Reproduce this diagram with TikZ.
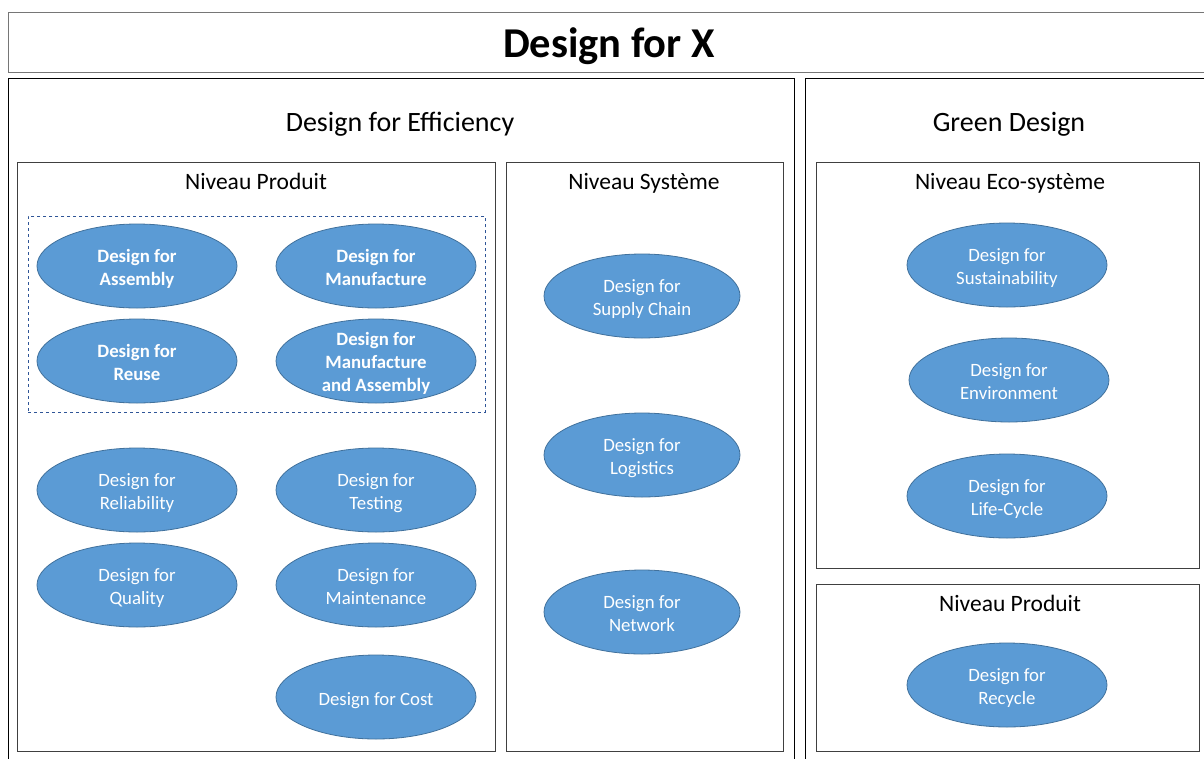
\documentclass[tikz,border=0pt]{standalone}
\usepackage{fontspec}
\setmainfont{Carlito}
\usetikzlibrary{shapes.geometric}
\definecolor{ellfill}{RGB}{91,155,213}
\definecolor{elldraw}{RGB}{65,113,156}
\definecolor{dashblue}{RGB}{47,85,151}
\definecolor{titlegray}{RGB}{118,118,118}
\definecolor{innergray}{RGB}{64,64,64}
\newcommand\tstr{\rule{0pt}{22pt}}
\newcommand\bstr{\rule[-6pt]{0pt}{6pt}}
\tikzset{
  boxnode/.style={draw, anchor=north west, inner sep=0pt, line width=1pt},
  titlebox/.style={boxnode, draw=titlegray},
  outerbox/.style={boxnode, draw=black, line width=1.1pt},
  innerbox/.style={boxnode, draw=innergray},
  dashbox/.style={boxnode, draw=dashblue, dashed, line width=0.9pt},
  bigtitle/.style={font=\fontsize{42.5}{50}\selectfont\bfseries, inner sep=0pt, anchor=base},
  grouptitle/.style={font=\fontsize{28}{34}\selectfont, inner sep=0pt, anchor=base},
  leveltitle/.style={font=\fontsize{23.5}{28}\selectfont, inner sep=0pt, anchor=base},
  dfx/.style={ellipse, fill=ellfill, draw=elldraw, line width=0.8pt, minimum width=200pt, minimum height=84pt, inner sep=0pt, text=white, align=center, font=\fontsize{18.8}{23}\selectfont},
  dfxb/.style={dfx, font=\fontsize{18.8}{23}\selectfont\bfseries},
}
\begin{document}
\begin{tikzpicture}[x=1pt,y=-1pt]
\useasboundingbox (0,0) rectangle (1204,758);
\clip (0,0) rectangle (1204,758);
% containers
\node[titlebox, minimum width=1202pt, minimum height=60pt] (titlebx) at (8,12) {};
\node[outerbox, minimum width=786pt, minimum height=700pt] (effbox) at (8,78) {};
\node[outerbox, minimum width=410pt, minimum height=700pt] (greenbox) at (805,78) {};
\node[innerbox, minimum width=478pt, minimum height=589pt] (prodbox) at (17,162) {};
\node[innerbox, minimum width=277pt, minimum height=589pt] (sysbox) at (506,162) {};
\node[innerbox, minimum width=383pt, minimum height=406pt] (ecobox) at (816,162) {};
\node[innerbox, minimum width=383pt, minimum height=167pt] (gprodbox) at (816,584) {};
\node[dashbox, minimum width=457pt, minimum height=196pt] (dashbx) at (28,216) {};
% titles (positioned at their baselines)
\node[bigtitle] (ttl) at (609,57) {Design for X};
\node[grouptitle] (efft) at (400,131) {Design for Efficiency};
\node[grouptitle] (greent) at (1009,131) {Green Design};
\node[leveltitle] (prodt) at (256,189) {Niveau Produit};
\node[leveltitle] (syst) at (644,189) {Niveau Système};
\node[leveltitle] (ecot) at (1010,189) {Niveau Eco-système};
\node[leveltitle] (gprodt) at (1010,611) {Niveau Produit};
% product level
\node[dfxb] (assembly) at (137,266) {\tstr Design for\\Assembly\bstr};
\node[dfxb] (manuf) at (376,266) {\tstr Design for\\Manufacture\bstr};
\node[dfxb] (reuse) at (137,361) {\tstr Design for\\Reuse\bstr};
\node[dfxb] (mfa) at (376,361) {\raisebox{-7pt}[0pt][0pt]{\begin{tabular}{@{}c@{}}Design for\\Manufacture\\and Assembly\end{tabular}}};
\node[dfx] (reliab) at (137,490) {\tstr Design for\\Reliability\bstr};
\node[dfx] (testing) at (376,490) {\tstr Design for\\Testing\bstr};
\node[dfx] (quality) at (137,585) {\tstr Design for\\Quality\bstr};
\node[dfx] (maint) at (376,585) {\tstr Design for\\Maintenance\bstr};
\node[dfx] (cost) at (376,697) {\tstr Design for Cost\bstr};
% system level
\node[dfx, minimum width=196pt] (supply) at (642,296) {\tstr Design for\\Supply Chain\bstr};
\node[dfx, minimum width=196pt] (logist) at (642,455) {\tstr Design for\\Logistics\bstr};
\node[dfx, minimum width=196pt] (network) at (642,612) {\tstr Design for\\Network\bstr};
% green
\node[dfx] (sustain) at (1007,265) {\tstr Design for\\Sustainability\bstr};
\node[dfx] (environ) at (1009,380) {\tstr Design for\\Environment\bstr};
\node[dfx] (lifecyc) at (1007,496) {\tstr Design for\\Life-Cycle\bstr};
\node[dfx] (recycle) at (1007,685) {\tstr Design for\\Recycle\bstr};
\end{tikzpicture}
\end{document}
